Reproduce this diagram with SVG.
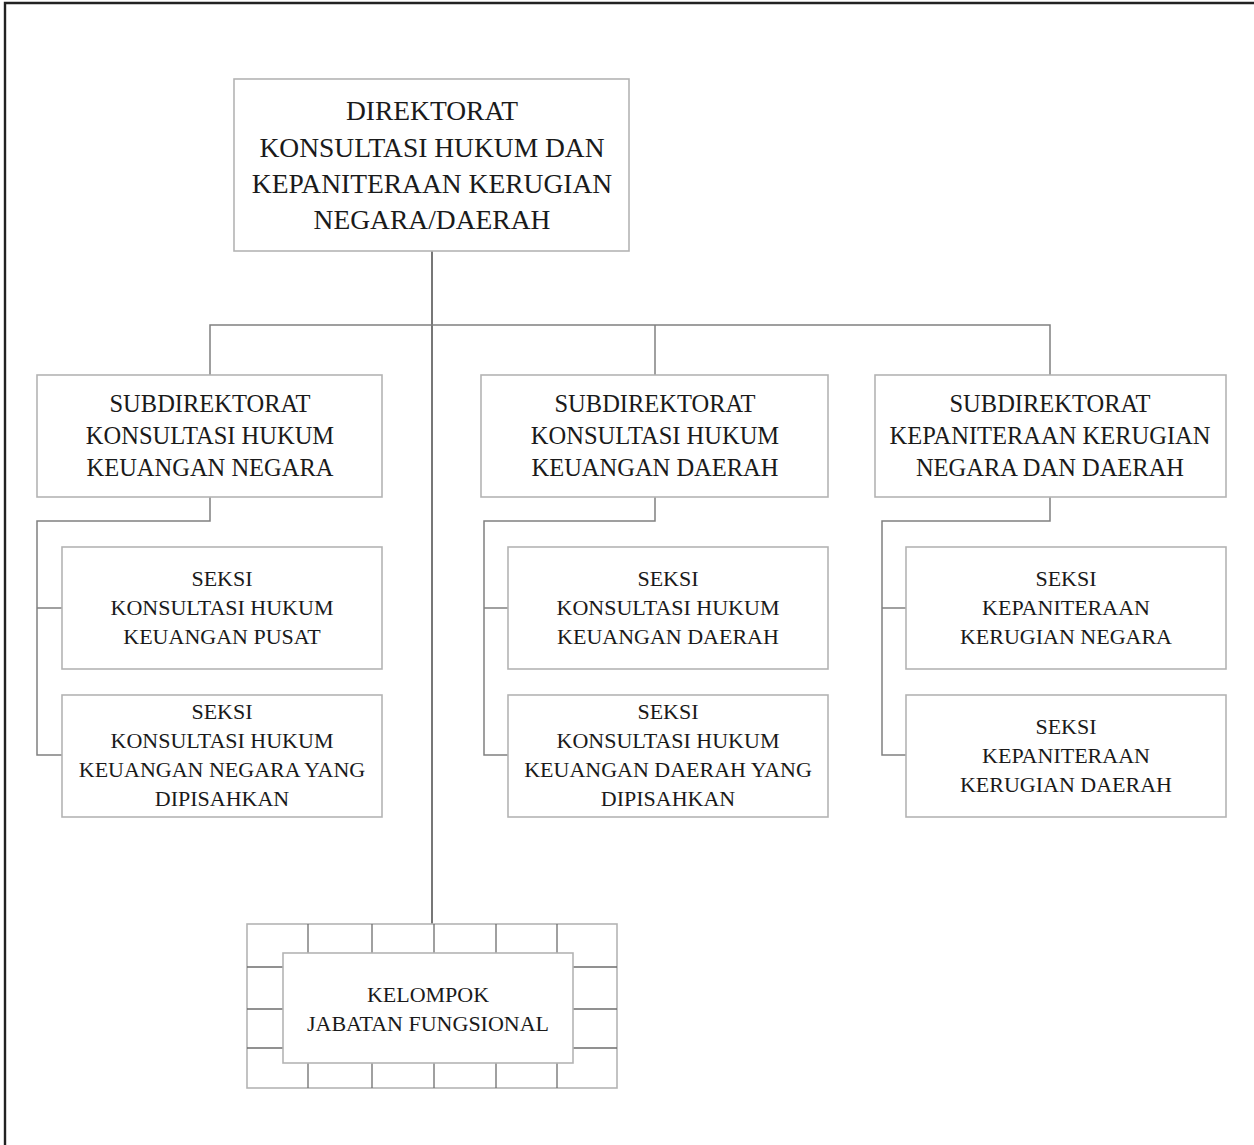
<svg xmlns="http://www.w3.org/2000/svg" width="1254" height="1145" viewBox="0 0 1254 1145">
  <style>
    .box { fill: #ffffff; stroke: #b4b4b4; stroke-width: 1.6; }
    .link { fill: none; stroke: #808080; stroke-width: 1.5; }
    .trunk { fill: none; stroke: #555555; stroke-width: 1.6; }
    .grid { fill: none; stroke: #6e6e6e; stroke-width: 1.3; }
    text { font-family: "Liberation Serif", "Times New Roman", serif; fill: #1a1a1a; text-anchor: middle; }
    .t1 { font-size: 27.5px; }
    .t2 { font-size: 24.5px; }
    .t3 { font-size: 22px; }
  </style>

  <!-- page frame: top and left edges -->
  <path d="M5 1145 V3 H1254" fill="none" stroke="#222" stroke-width="2.4"/>

  <g id="connectors">
    <path class="trunk" d="M432 251 V924"/>
    <path class="link" d="M210 375 V325 H1050 V375"/>
    <path class="link" d="M655 325 V375"/>
    <path class="link" d="M210 497 V521 H37 V755 H62"/>
    <path class="link" d="M37 608 H62"/>
    <path class="link" d="M655 497 V521 H484 V755 H508"/>
    <path class="link" d="M484 608 H508"/>
    <path class="link" d="M1050 497 V521 H882 V755 H906"/>
    <path class="link" d="M882 608 H906"/>
  </g>

  <g id="direktorat">
    <rect class="box" x="234" y="79" width="395" height="172"/>
    <text class="t1" x="432" y="120">DIREKTORAT</text>
    <text class="t1" x="432" y="157">KONSULTASI HUKUM DAN</text>
    <text class="t1" x="432" y="193">KEPANITERAAN KERUGIAN</text>
    <text class="t1" x="432" y="229">NEGARA/DAERAH</text>
  </g>

  <g id="subdit-negara">
    <rect class="box" x="37" y="375" width="345" height="122"/>
    <text class="t2" x="210" y="412">SUBDIREKTORAT</text>
    <text class="t2" x="210" y="444">KONSULTASI HUKUM</text>
    <text class="t2" x="210" y="476">KEUANGAN NEGARA</text>
  </g>

  <g id="subdit-daerah">
    <rect class="box" x="481" y="375" width="347" height="122"/>
    <text class="t2" x="655" y="412">SUBDIREKTORAT</text>
    <text class="t2" x="655" y="444">KONSULTASI HUKUM</text>
    <text class="t2" x="655" y="476">KEUANGAN DAERAH</text>
  </g>

  <g id="subdit-kepaniteraan">
    <rect class="box" x="875" y="375" width="351" height="122"/>
    <text class="t2" x="1050" y="412">SUBDIREKTORAT</text>
    <text class="t2" x="1050" y="444">KEPANITERAAN KERUGIAN</text>
    <text class="t2" x="1050" y="476">NEGARA DAN DAERAH</text>
  </g>

  <g id="seksi-keuangan-pusat">
    <rect class="box" x="62" y="547" width="320" height="122"/>
    <text class="t3" x="222" y="586">SEKSI</text>
    <text class="t3" x="222" y="615">KONSULTASI HUKUM</text>
    <text class="t3" x="222" y="644">KEUANGAN PUSAT</text>
  </g>

  <g id="seksi-negara-dipisahkan">
    <rect class="box" x="62" y="695" width="320" height="122"/>
    <text class="t3" x="222" y="719">SEKSI</text>
    <text class="t3" x="222" y="748">KONSULTASI HUKUM</text>
    <text class="t3" x="222" y="777">KEUANGAN NEGARA YANG</text>
    <text class="t3" x="222" y="806">DIPISAHKAN</text>
  </g>

  <g id="seksi-keuangan-daerah">
    <rect class="box" x="508" y="547" width="320" height="122"/>
    <text class="t3" x="668" y="586">SEKSI</text>
    <text class="t3" x="668" y="615">KONSULTASI HUKUM</text>
    <text class="t3" x="668" y="644">KEUANGAN DAERAH</text>
  </g>

  <g id="seksi-daerah-dipisahkan">
    <rect class="box" x="508" y="695" width="320" height="122"/>
    <text class="t3" x="668" y="719">SEKSI</text>
    <text class="t3" x="668" y="748">KONSULTASI HUKUM</text>
    <text class="t3" x="668" y="777">KEUANGAN DAERAH YANG</text>
    <text class="t3" x="668" y="806">DIPISAHKAN</text>
  </g>

  <g id="seksi-kerugian-negara">
    <rect class="box" x="906" y="547" width="320" height="122"/>
    <text class="t3" x="1066" y="586">SEKSI</text>
    <text class="t3" x="1066" y="615">KEPANITERAAN</text>
    <text class="t3" x="1066" y="644">KERUGIAN NEGARA</text>
  </g>

  <g id="seksi-kerugian-daerah">
    <rect class="box" x="906" y="695" width="320" height="122"/>
    <text class="t3" x="1066" y="734">SEKSI</text>
    <text class="t3" x="1066" y="763">KEPANITERAAN</text>
    <text class="t3" x="1066" y="792">KERUGIAN DAERAH</text>
  </g>

  <g id="kelompok-jabatan-fungsional">
    <!-- bordered frame with a brick grid around the inner box -->
    <rect class="box" x="247" y="924" width="370" height="164"/>
    <path class="grid" d="M308 924 V953 M372 924 V953 M434 924 V953 M496 924 V953 M557 924 V953
                          M308 1063 V1088 M372 1063 V1088 M434 1063 V1088 M496 1063 V1088 M557 1063 V1088
                          M247 967 H283 M247 1009 H283 M247 1048 H283
                          M573 967 H617 M573 1009 H617 M573 1048 H617"/>
    <rect class="box" x="283" y="953" width="290" height="110"/>
    <text class="t3" x="428" y="1002">KELOMPOK</text>
    <text class="t3" x="428" y="1031">JABATAN FUNGSIONAL</text>
  </g>
</svg>
